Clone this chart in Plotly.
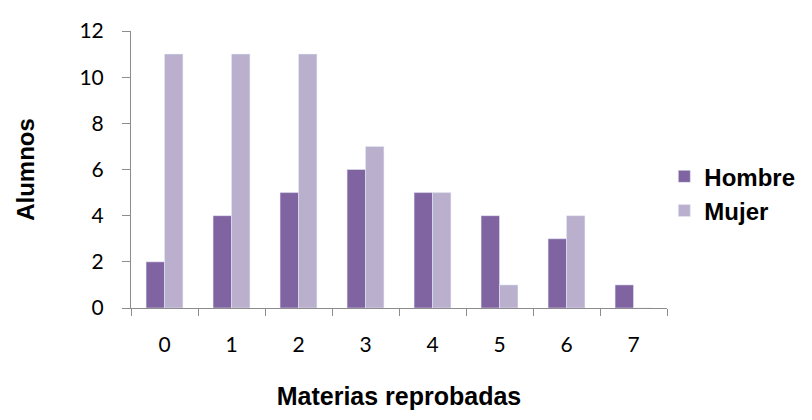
import plotly.graph_objects as go

categories = ["0", "1", "2", "3", "4", "5", "6", "7"]
hombre = [2, 4, 5, 6, 5, 4, 3, 1]
mujer = [11, 11, 11, 7, 5, 1, 4, 0]

fig = go.Figure()
fig.add_trace(go.Bar(name="Hombre", x=categories, y=hombre, marker_color="#8064A2"))
fig.add_trace(go.Bar(name="Mujer", x=categories, y=mujer, marker_color="#BAB0CE"))

axis_col = "#8C8C8C"
bold = dict(family="Liberation Sans", size=24, color="black", weight="bold")
xtitle_font = dict(family="Liberation Sans", size=25, color="black", weight="bold")
tickf = dict(family="Lato", size=21, color="black")
fig.update_layout(
    width=812, height=420,
    margin=dict(l=123, r=153, t=23, b=120, autoexpand=False),
    paper_bgcolor="white", plot_bgcolor="white",
    barmode="group", bargap=0.45, bargroupgap=0,
    legend=dict(x=0.995, y=0.555, xanchor="left", yanchor="top",
                font=bold, itemwidth=30, tracegroupgap=0,
                bgcolor="rgba(0,0,0,0)"),
    showlegend=True,
)
fig.update_xaxes(
    automargin=False,
    showline=True, linecolor=axis_col, linewidth=1,
    ticks="outside", tickson="boundaries", ticklen=7, tickcolor=axis_col,
    tickfont=tickf, ticklabelstandoff=18,
    showgrid=False,
    title=dict(text="Materias reprobadas", standoff=32, font=xtitle_font),
)
fig.update_yaxes(
    automargin=False,
    range=[0, 12], dtick=2,
    showline=True, linecolor=axis_col, linewidth=1,
    ticks="outside", ticklen=8, tickcolor=axis_col,
    tickfont=tickf, ticklabelstandoff=14,
    showgrid=False, zeroline=False,
    title=dict(text="Alumnos", standoff=38, font=bold),
)
fig.write_html("out.html")
